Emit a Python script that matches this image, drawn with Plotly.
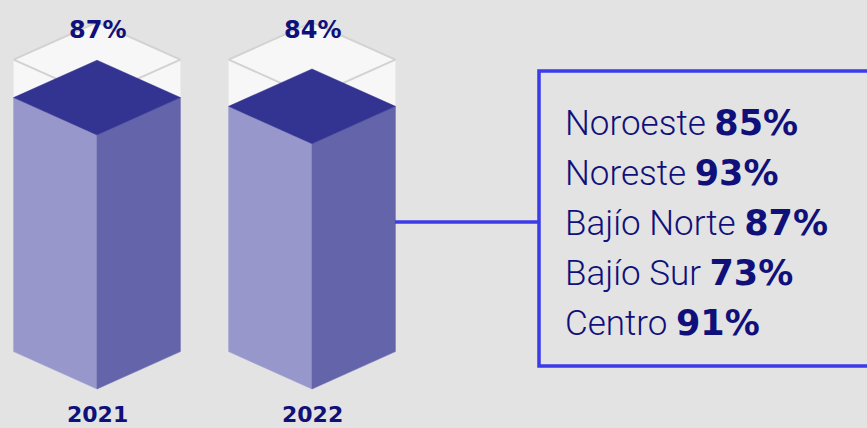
import plotly.graph_objects as go

# ---- data ----
years = ["2021", "2022"]
values = [87, 84]
regions = ["Noroeste", "Noreste", "Bajío Norte", "Bajío Sur", "Centro"]
region_values = [85, 93, 87, 73, 91]

# ---- style / geometry constants ----
W, H = 867, 428
BG = "#e3e3e3"
NAVY = "#10107a"
LEFT_FACE = "#9797cb"
RIGHT_FACE = "#6464aa"
TOP_FACE = "#333392"
GLASS = "#f7f7f7"
GLASS_LINE = "#d2d2d2"
BLUE = "#3b3bea"

HW = 0.388      # half width of prism (x units)
D = 12.8        # isometric depth offset (y units)
FULL = 100      # glass height

fig = go.Figure()

def poly(xs, ys, fill, line_width=0):
    fig.add_trace(go.Scatter(
        x=xs + [xs[0]], y=ys + [ys[0]], mode="lines",
        fill="toself", fillcolor=fill,
        line=dict(color=fill, width=line_width),
        hoverinfo="skip", showlegend=False))

for i, v in enumerate(values):
    cx = i
    # glass silhouette
    poly([cx - HW, cx, cx + HW, cx + HW, cx, cx - HW],
         [D, 0, D, FULL + D, FULL + 2 * D, FULL + D], GLASS)
    # glass top outline
    fig.add_trace(go.Scatter(
        x=[cx - HW, cx, cx + HW, cx, cx - HW],
        y=[FULL + D, FULL + 2 * D, FULL + D, FULL, FULL + D],
        mode="lines", line=dict(color=GLASS_LINE, width=2),
        hoverinfo="skip", showlegend=False))
    # left face
    poly([cx - HW, cx, cx, cx - HW], [D, 0, v, v + D], LEFT_FACE, 0.5)
    # right face
    poly([cx, cx + HW, cx + HW, cx], [0, D, v + D, v], RIGHT_FACE, 0.5)
    # top face
    poly([cx - HW, cx, cx + HW, cx], [v + D, v + 2 * D, v + D, v], TOP_FACE, 0.5)

# value labels and year labels
for i, (yr, v) in enumerate(zip(years, values)):
    fig.add_annotation(x=i, y=122.8, text=f"<b>{v}%</b>", showarrow=False,
                       xanchor="center", yanchor="middle",
                       font=dict(family="DejaVu Sans", size=24, color=NAVY))
    fig.add_annotation(x=i, y=-8.6, text=f"<b>{yr}</b>", showarrow=False,
                       xanchor="center", yanchor="middle",
                       font=dict(family="DejaVu Sans", size=22, color=NAVY))

# connector line + box (layout positions in paper coordinates)
fig.add_shape(type="line", xref="paper", yref="paper",
              x0=395 / W, x1=538 / W, y0=1 - 222 / H, y1=1 - 222 / H,
              line=dict(color=BLUE, width=3.5))
fig.add_shape(type="rect", xref="paper", yref="paper",
              x0=539 / W, x1=880 / W, y0=1 - 71 / H, y1=1 - 366 / H,
              line=dict(color=BLUE, width=3.5), fillcolor="rgba(0,0,0,0)")

for k, (r, rv) in enumerate(zip(regions, region_values)):
    yc = 123.5 + 50 * k
    fig.add_annotation(
        xref="paper", yref="paper", x=563 / W, y=1 - yc / H,
        text=f"{r} <span style=\"font-family:'DejaVu Sans';font-weight:bold\">{rv}%</span>",
        showarrow=False, xanchor="left", yanchor="middle",
        font=dict(family="Roboto", size=35, color=NAVY, weight=300))

x0 = -97 / 215
x1 = (W - 97) / 215
K = 2.92
fig.update_layout(
    width=W, height=H,
    margin=dict(l=0, r=0, t=0, b=0),
    paper_bgcolor=BG, plot_bgcolor=BG,
    xaxis=dict(range=[x0, x1], visible=False, fixedrange=True),
    yaxis=dict(range=[-(H - 389) / K, 389 / K], visible=False, fixedrange=True),
    hovermode=False,
)

fig.write_html(
    "out.html",
    config={"displayModeBar": False},
    post_script="document.body.style.margin='0';document.body.style.overflow='hidden';"
                "document.body.style.background='" + BG + "';",
)
